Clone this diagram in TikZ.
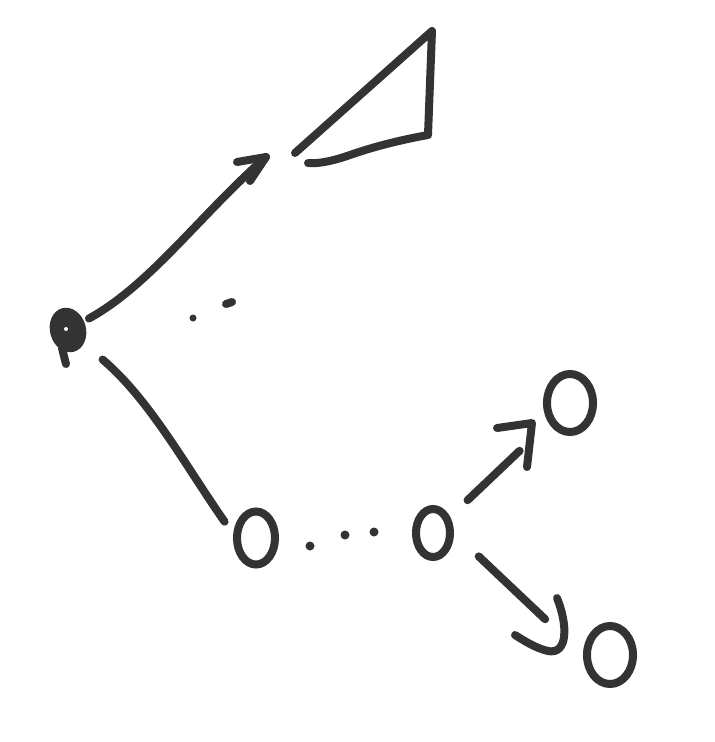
\documentclass[tikz,border=0pt]{standalone}
\usetikzlibrary{shapes.geometric}
\definecolor{ink}{HTML}{333333}
\begin{document}
\begin{tikzpicture}
[x=0.01cm,y=-0.01cm,
 inkLine/.style={draw=ink,line width=0.8mm,line cap=round,line join=round},
 stateDecorate/.style={shape=ellipse,draw=ink,line width=0.8mm,inner sep=0pt},
 dotDecorate/.style={shape=circle,fill=ink,inner sep=0pt,minimum size=0.9mm}]
\useasboundingbox (0,0) rectangle (714,742);
%% nodes or vertices
\node (root) at (68,330) [shape=ellipse,fill=ink,inner sep=0pt,
  minimum width=3.6mm,minimum height=4.5mm,rotate=15] {};
\fill[white] (66,329) circle (2);
\draw[inkLine] (62,348) -- (66,364);
\foreach \nodename/\x/\y/\w/\h in {
  first/256/538/3.8/5.3, last/433/533/3.4/4.8,
  upper/570/403/4.6/5.8, lower/610/655/4.6/5.8}
{
  \node (\nodename) at (\x,\y) [stateDecorate,minimum width=\w mm,minimum height=\h mm] {};
}
%% the triangle
\coordinate (apex) at (432,31);
\draw[inkLine] (295,153) -- (apex) -- (428,135)
  .. controls (395,141) and (370,148) .. (350,155)
  .. controls (333,161) and (318,164) .. (308,163);
%% dots
\node (d1) at (193,318) [dotDecorate,minimum size=0.7mm] {};
\draw[inkLine] (226,304) -- (232,302);
\foreach \name/\x/\y in {e1/310/546, e2/345/535, e3/374/532}
{
  \node (\name) at (\x,\y) [dotDecorate] {};
}
%% edges or lines
\coordinate (tipA) at (266,157);
\coordinate (tipB) at (532,423);
\coordinate (tipC) at (557,598);
\draw[inkLine,shorten <=0.5mm] (root) .. controls (150,285) and (200,215) .. (tipA);
\draw[inkLine] (237,162) -- (tipA) -- (250,181);
\draw[inkLine,shorten <=2.4mm,shorten >=1.5mm] (root) .. controls (150,400) and (185,465) .. (first.170);
\draw[inkLine,shorten <=2.4mm,shorten >=4mm] (last) -- (upper);
\draw[inkLine] (497,428) -- (tipB) -- (527,467);
\draw[inkLine,shorten <=3.4mm,shorten >=5.2mm] (last.east) -- (lower.west);
\draw[inkLine] (tipC) .. controls (568,625) and (568,655) .. (548,651)
  .. controls (535,648) and (523,640) .. (515,635);
\end{tikzpicture}
\end{document}
